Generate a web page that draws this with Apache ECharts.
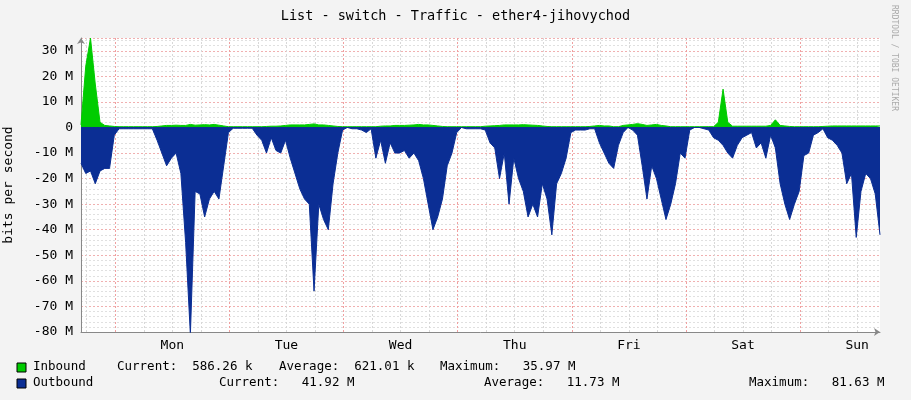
<!DOCTYPE html>
<html><head><meta charset="utf-8">
<script src="https://cdn.jsdelivr.net/npm/echarts@6/dist/echarts.min.js"></script>
<style>html,body{margin:0;padding:0;background:#f3f3f3}#c{width:911px;height:400px}</style>
</head><body><div id="c"></div>
<script>
// hours relative to Monday 00:00; one sample per hour from -7.2
const startHour = -7.2;
const inbound = [
 1,24,35,17,2,0.8,0.6,0.4,0.3,0.3,0.3,0.3,0.3,0.3,0.3,0.3,0.4,0.6,0.8,0.8,0.9,0.8,0.8,1.2,
 0.9,1,1.1,1,1.2,0.9,0.6,0.3,0.3,0.3,0.3,0.3,0.3,0.3,0.3,0.4,0.5,0.5,0.6,0.8,1,1,1,1,
 1.2,1.4,1,1,0.8,0.6,0.4,0.3,0.3,0.3,0.3,0.3,0.3,0.3,0.3,0.5,0.6,0.6,0.8,0.8,0.8,0.9,1,1.2,
 1,1,0.8,0.6,0.4,0.3,0.3,0.3,0.3,0.3,0.3,0.3,0.3,0.5,0.6,0.7,0.8,1,1,1,1,1.1,1,0.9,
 0.8,0.6,0.4,0.3,0.3,0.3,0.3,0.3,0.3,0.3,0.3,0.4,0.6,0.8,0.6,0.6,0.3,0.3,0.8,1,1.2,1.5,1.2,0.8,
 1,1.2,0.8,0.6,0.3,0.3,0.3,0.3,0.3,0.3,0.3,0.3,0.3,0.3,2,15,2,0.5,0.5,0.5,0.5,0.5,0.5,0.5,
 0.5,0.8,3,0.8,0.6,0.4,0.3,0.3,0.3,0.3,0.3,0.3,0.4,0.5,0.6,0.6,0.6,0.6,0.6,0.6,0.6,0.6,0.6,0.6,0.6];
const outbound = [
 14,18,17,22,17,16,16,3,0.5,0.5,0.5,0.5,0.5,0.5,0.5,0.5,5,10,15,12,10,18,45,81,
 25,26,35,28,25,28,15,2,0.3,0.3,0.3,0.3,0.3,3,5,10,4,9,10,5,12,18,24,28,
 30,64,30,36,40,22,10,1,0,0.5,0.5,1,2,0.5,12,5,14,6,10,10,9,12,10,13,
 20,30,40,35,28,15,10,2,0,0.5,0.5,0.5,0.5,1,6,8,20,10,30,12,20,25,35,30,
 35,22,28,42,22,18,12,2,1,1,1,0.5,0.5,6,10,14,16,7,2,0,1,3,15,28,
 15,20,28,36,30,22,10,12,1,0,0,0.5,1,4,5,7,10,12,7,4,3,2,8,6,
 12,3,8,22,30,36,30,25,11,10,3,2,0.5,4,5,7,10,22,18,43,25,18,20,26,42];
const dayLabels = ['Mon','Tue','Wed','Thu','Fri','Sat','Sun'];
const yTicks = [-80,-70,-60,-50,-40,-30,-20,-10,0,10,20,30];

const inData = inbound.map((v,i)=>[startHour+i, v]);
const outData = outbound.map((v,i)=>[startHour+i, -v]);
const vlines = [];
for (let h=-6; h<=160; h+=6) {
  const major = h % 24 === 0;
  vlines.push({xAxis:h, lineStyle:{color: major?'#f0a0a0':'#d8d8d8', type:[2,2], width:1}});
}
const mono = 'DejaVu Sans Mono';
const F = '12.5px "DejaVu Sans Mono"';
const chart = echarts.init(document.getElementById('c'));
chart.setOption({
  backgroundColor:'#f3f3f3',
  animation:false,
  title:{text:'List - switch - Traffic - ether4-jihovychod', left:'center', top:4,
    textStyle:{fontFamily:mono, fontSize:13.5, fontWeight:'normal', color:'#000'}},
  grid:{left:81,right:31,top:38,bottom:68,show:true,backgroundColor:'#fff',borderWidth:0,
    containLabel:false, outerBoundsMode:'none'},
  xAxis:{type:'value', min:-7.2, max:160.8, axisLabel:{show:false}, axisTick:{show:false},
    splitLine:{show:false}, axisLine:{onZero:false, lineStyle:{color:'#888'}, symbol:['none','arrow'], symbolSize:[6,6]}},
  yAxis:{type:'value', min:-80, max:35, interval:10,
    name:'bits per second', nameLocation:'middle', nameGap:66, nameRotate:90,
    nameTextStyle:{fontFamily:mono, fontSize:13, color:'#000'},
    axisLabel:{fontFamily:mono, fontSize:13, color:'#000', margin:8, showMaxLabel:false,
      formatter:v=> yTicks.includes(v) ? (v===0?'0':v+' M') : ''},
    axisTick:{show:false},
    axisLine:{show:true, onZero:false, lineStyle:{color:'#888'}, symbol:['none','arrow'], symbolSize:[6,6]},
    splitLine:{lineStyle:{color:'#f0b0b0', type:[2,2]}},
    minorTick:{show:false, splitNumber:5},
    minorSplitLine:{show:true, lineStyle:{color:'#e0e0e0', type:[2,2]}}},
  series:[
    {type:'line', data:[], z:1, markLine:{z:1, silent:true, symbol:'none', label:{show:false}, data:vlines}},
    {name:'Outbound', type:'line', data:outData, showSymbol:false, lineStyle:{width:1,color:'#0b2e94'},
      areaStyle:{color:'#0b2e94', opacity:1}, z:3},
    {name:'Inbound', type:'line', data:inData, showSymbol:false, lineStyle:{width:1,color:'#00cc00'},
      areaStyle:{color:'#00cc00', opacity:1}, z:4},
    {type:'line', data:[[-7.2,0],[160.8,0]], showSymbol:false, lineStyle:{width:1,color:'#0b2e94'}, z:5}
  ],
  graphic:[
    {type:'rect', shape:{x:17,y:363,width:9,height:9}, style:{fill:'#00cc00', stroke:'#000', lineWidth:1}},
    {type:'rect', shape:{x:17,y:379,width:9,height:9}, style:{fill:'#0b2e94', stroke:'#000', lineWidth:1}},
    {type:'text', left:33, top:360, style:{text:'Inbound', font:F, fill:'#000'}},
    {type:'text', left:117, top:360, style:{text:'Current:  586.26 k', font:F, fill:'#000'}},
    {type:'text', left:279, top:360, style:{text:'Average:  621.01 k', font:F, fill:'#000'}},
    {type:'text', left:440, top:360, style:{text:'Maximum:   35.97 M', font:F, fill:'#000'}},
    {type:'text', left:33, top:376, style:{text:'Outbound', font:F, fill:'#000'}},
    {type:'text', left:219, top:376, style:{text:'Current:   41.92 M', font:F, fill:'#000'}},
    {type:'text', left:484, top:376, style:{text:'Average:   11.73 M', font:F, fill:'#000'}},
    {type:'text', left:749, top:376, style:{text:'Maximum:   81.63 M', font:F, fill:'#000'}},
    {type:'text', x:898, y:5, rotation:-Math.PI/2, style:{text:'RRDTOOL / TOBI OETIKER', font:'8px "DejaVu Sans Mono"', fill:'#aaa'}}
  ]
});
const labelG = dayLabels.map((d,i)=>{
  const p = chart.convertToPixel({gridIndex:0}, [i*24+12, -80]);
  return {type:'text', x:p[0], y:p[1]+7, style:{text:d, font:'13px "DejaVu Sans Mono"', fill:'#000', textAlign:'center'}};
});
chart.setOption({graphic: chart.getOption().graphic[0].elements.concat(labelG)});
</script></body></html>
